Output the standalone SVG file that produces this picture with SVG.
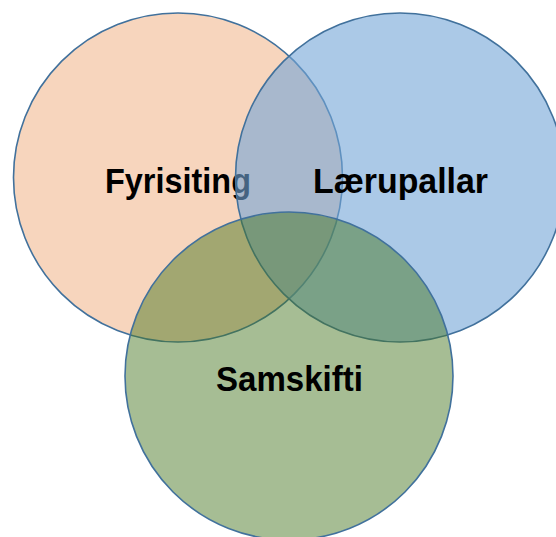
<svg xmlns="http://www.w3.org/2000/svg" width="556" height="537" viewBox="0 0 556 537">
  <style>
    .c { stroke: #41719C; stroke-width: 1.6; }
    .t { font-family: "Liberation Sans", Arial, sans-serif; font-weight: bold; font-size: 35px; fill: #000; }
  </style>
  <rect width="556" height="537" fill="#ffffff"/>
  <g id="node-fyrisiting">
    <circle class="c" cx="178" cy="177.5" r="164.5" fill="#F7D5BD"/>
    <text class="t" x="105" y="193" textLength="146" lengthAdjust="spacingAndGlyphs">Fyrisiting</text>
  </g>
  <g id="node-laerupallar">
    <circle class="c" cx="400" cy="177.5" r="164.5" fill="rgb(115,165,215)" fill-opacity="0.6"/>
    <text class="t" x="313" y="193" textLength="175" lengthAdjust="spacingAndGlyphs">Lærupallar</text>
  </g>
  <g id="node-samskifti">
    <circle class="c" cx="289" cy="376" r="164" fill="rgb(70,118,32)" fill-opacity="0.48"/>
    <text class="t" x="216" y="391" textLength="147" lengthAdjust="spacingAndGlyphs">Samskifti</text>
  </g>
  <g id="connectors"></g>
</svg>
